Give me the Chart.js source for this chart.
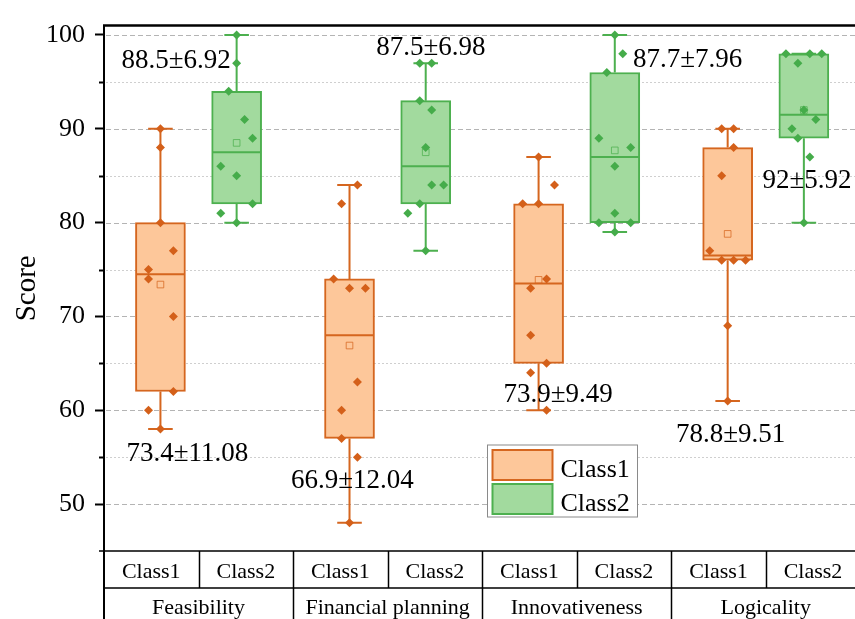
<!DOCTYPE html>
<html>
<head>
<meta charset="utf-8">
<script src="https://cdn.jsdelivr.net/npm/chart.js@4.4.1/dist/chart.umd.min.js"></script>
<style>
  html, body { margin: 0; padding: 0; background: #fff; overflow: hidden; width: 855px; height: 619px; }
  #wrap { position: absolute; left: 0; top: 0; width: 866px; height: 619px; }
</style>
</head>
<body>
<div id="wrap"><canvas id="chart" width="866" height="619"></canvas></div>
<script>
// ---- data ----
const groups = ['Feasibility', 'Financial planning', 'Innovativeness', 'Logicality'];
const classNames = ['Class1', 'Class2'];

// individual scores, one row per criterion
const class1Scores = [
  [90, 88, 80, 77, 75, 74, 70, 62, 60, 58],
  [84, 82, 74, 73, 73, 63, 60, 57, 55, 48],
  [87, 84, 82, 82, 74, 73, 68, 65, 64, 60],
  [90, 90, 88, 85, 77, 76, 76, 76, 69, 61]
];
const class2Scores = [
  [100, 97, 94, 91, 89, 86, 85, 82, 81, 80],
  [97, 97, 93, 92, 88, 84, 84, 82, 81, 77],
  [100, 98, 96, 89, 88, 86, 81, 80, 80, 79],
  [98, 98, 98, 97, 92, 91, 90, 89, 87, 80]
];

// box statistics
const class1Q1     = [62, 57, 65, 76];
const class1Median = [74.5, 68, 73.5, 76.5];
const class1Q3     = [80, 74, 82, 88];
const class1Min    = [58, 48, 60, 61];
const class1Max    = [90, 84, 87, 90];
const class2Q1     = [82, 82, 80, 89];
const class2Median = [87.5, 86, 87, 91.5];
const class2Q3     = [94, 93, 96, 98];
const class2Min    = [80, 77, 79, 80];
const class2Max    = [100, 97, 100, 98];

// mean ± SD
const class1Mean = [73.4, 66.9, 73.9, 78.8];
const class1SD   = [11.08, 12.04, 9.49, 9.51];
const class2Mean = [88.5, 87.5, 87.7, 92];
const class2SD   = [6.92, 6.98, 7.96, 5.92];

const yTickValues = [50, 60, 70, 80, 90, 100];

// ---- layout ----
const CLASS_SHIFT = 0.403;   // box centre distance from group centre (x units)
const BOX_PX = 50;           // box width in px
const CAP_HALF = 0.13;       // whisker cap half width (x units)
const JITTER_UNIT = 1 / 95.1;
// horizontal spread of the individual points (px-like steps)
const class1Jitter = [
  [0, 0, 0, 13, -12, -12, 13, 13, -12, 0],
  [8, -8, -16, 0, 16, 8, -8, -8, 8, 0],
  [0, 16, -16, 0, 8, -8, -8, 8, -8, 8],
  [-6, 6, 6, -6, -18, -6, 6, 18, 0, 0]
];
const class2Jitter = [
  [0, 0, -8, 8, 16, -16, 0, 16, -16, 0],
  [-6, 6, -6, 6, 0, 6, 18, -6, -18, 0],
  [0, 8, -8, -16, 16, 0, 0, -16, 16, 0],
  [-18, 6, 18, -6, 0, 12, -12, -6, 6, 0]
];
// where each "mean±SD" text sits: [x units, baseline value]
const class1LabelAt = [[0.881, 54.55], [2.627, 51.68], [4.803, 60.87], [6.628, 56.66]];
const class2LabelAt = [[0.762, 96.45], [3.457, 97.86], [6.173, 96.56], [7.437, 83.66]];

const ORANGE = '#D5661F', ORANGE_FILL = '#FDC79A', ORANGE_PT = '#D4601A';
const GREEN = '#4DB04F', GREEN_FILL = '#A2DA9E', GREEN_PT = '#45AC4A';
const SERIF = '"Liberation Serif", "Times New Roman", serif';

const boxX = (g, c) => 2 * g + 1 + (c === 0 ? -CLASS_SHIFT : CLASS_SHIFT);

function pointsFor(scores, jitter, c) {
  const out = [];
  scores.forEach((row, g) => row.forEach((v, k) => out.push({ x: boxX(g, c) + jitter[g][k] * JITTER_UNIT, y: v })));
  return out;
}
const meansFor = (means, c) => means.map((m, g) => ({ x: boxX(g, c), y: m }));
const boxesFor = (q1, q3, c) => q1.map((v, g) => ({ x: boxX(g, c), y: [v, q3[g]] }));

const stats = [
  { q1: class1Q1, med: class1Median, q3: class1Q3, min: class1Min, max: class1Max, color: ORANGE,
    mean: class1Mean, sd: class1SD, at: class1LabelAt },
  { q1: class2Q1, med: class2Median, q3: class2Q3, min: class2Min, max: class2Max, color: GREEN,
    mean: class2Mean, sd: class2SD, at: class2LabelAt }
];

// dashed grid + minor ticks behind the boxes
const gridPlugin = {
  id: 'grid',
  beforeDatasetsDraw(chart) {
    const { ctx, chartArea: a, scales: { y } } = chart;
    ctx.save();
    for (let v = 50; v <= 100; v += 5) {
      const py = Math.round(y.getPixelForValue(v)) + 0.5;
      const major = v % 10 === 0;
      ctx.strokeStyle = major ? '#b4b4b4' : '#cfcfcf';
      ctx.lineWidth = 1;
      ctx.setLineDash(major ? [5, 3] : [2, 2]);
      ctx.beginPath(); ctx.moveTo(a.left + 2, py); ctx.lineTo(a.right, py); ctx.stroke();
      if (!major) {
        ctx.setLineDash([]);
        ctx.strokeStyle = '#000'; ctx.lineWidth = 2;
        ctx.beginPath(); ctx.moveTo(a.left - 5, py); ctx.lineTo(a.left, py); ctx.stroke();
      }
    }
    ctx.restore();
  }
};

// whiskers, caps and median lines for each class's boxes
const whiskerPlugin = {
  id: 'whiskers',
  afterDatasetDraw(chart, args) {
    const ds = chart.data.datasets[args.index];
    if (ds.boxClass === undefined) return;
    const s = stats[ds.boxClass];
    const { ctx, scales: { x, y } } = chart;
    ctx.save();
    ctx.strokeStyle = s.color; ctx.lineWidth = 2;
    s.q1.forEach((q1, g) => {
      const cx = boxX(g, ds.boxClass);
      const px = x.getPixelForValue(cx);
      const half = BOX_PX / 2 - 1;
      const capL = x.getPixelForValue(cx - CAP_HALF), capR = x.getPixelForValue(cx + CAP_HALF);
      ctx.beginPath();
      ctx.moveTo(px, y.getPixelForValue(s.q3[g])); ctx.lineTo(px, y.getPixelForValue(s.max[g]));
      ctx.moveTo(px, y.getPixelForValue(q1)); ctx.lineTo(px, y.getPixelForValue(s.min[g]));
      ctx.moveTo(capL, y.getPixelForValue(s.max[g])); ctx.lineTo(capR, y.getPixelForValue(s.max[g]));
      ctx.moveTo(capL, y.getPixelForValue(s.min[g])); ctx.lineTo(capR, y.getPixelForValue(s.min[g]));
      ctx.moveTo(px - half, y.getPixelForValue(s.med[g])); ctx.lineTo(px + half, y.getPixelForValue(s.med[g]));
      ctx.stroke();
    });
    ctx.restore();
  }
};

// frame, category table, mean±SD texts and legend
const decorPlugin = {
  id: 'decor',
  afterDraw(chart) {
    const { ctx, chartArea: a, scales: { x, y } } = chart;
    const W = chart.width, H = chart.height;
    ctx.save();
    ctx.strokeStyle = '#000';
    // top frame
    ctx.lineWidth = 2.5;
    ctx.beginPath(); ctx.moveTo(a.left - 1, a.top); ctx.lineTo(W, a.top); ctx.stroke();
    // axis continued through the table
    ctx.lineWidth = 2;
    ctx.beginPath(); ctx.moveTo(a.left, a.bottom); ctx.lineTo(a.left, H); ctx.stroke();
    // table rules
    const rowH = 37;
    const r1 = a.bottom, r2 = a.bottom + rowH;
    ctx.lineWidth = 1.5;
    ctx.beginPath();
    ctx.moveTo(a.left - 5, r1); ctx.lineTo(W, r1);
    ctx.moveTo(a.left, r2); ctx.lineTo(W, r2);
    for (let k = 1; k < 8; k++) {
      const px = Math.round(x.getPixelForValue(k)) + 0.5;
      ctx.moveTo(px, r1); ctx.lineTo(px, k % 2 === 0 ? H : r2);
    }
    ctx.stroke();
    ctx.fillStyle = '#000';
    ctx.textAlign = 'center';
    ctx.textBaseline = 'alphabetic';
    ctx.font = '22px ' + SERIF;
    for (let k = 0; k < 8; k++) {
      ctx.fillText(classNames[k % 2], x.getPixelForValue(k + 0.5), r1 + 27);
    }
    groups.forEach((name, g) => ctx.fillText(name, x.getPixelForValue(2 * g + 1), r2 + 26));

    // mean ± SD texts
    ctx.font = '27px ' + SERIF;
    stats.forEach(s => s.mean.forEach((m, g) => {
      const [lx, ly] = s.at[g];
      ctx.fillText(m + '\u00B1' + s.sd[g], x.getPixelForValue(lx), y.getPixelForValue(ly));
    }));

    // legend
    const lx = 487.5, ly = 445;
    ctx.fillStyle = '#fff';
    ctx.fillRect(lx, ly, 150, 72);
    ctx.strokeStyle = '#8a8a8a'; ctx.lineWidth = 1;
    ctx.strokeRect(lx, ly, 150, 72);
    const sw = [[ORANGE_FILL, ORANGE, 'Class1'], [GREEN_FILL, GREEN, 'Class2']];
    sw.forEach(([f, st, t], i) => {
      const top = ly + 5 + i * 34;
      ctx.fillStyle = f; ctx.fillRect(lx + 5, top, 60, 30);
      ctx.strokeStyle = st; ctx.lineWidth = 2; ctx.strokeRect(lx + 5, top, 60, 30);
      ctx.fillStyle = '#000'; ctx.textAlign = 'left'; ctx.font = '26px ' + SERIF;
      ctx.fillText(t, lx + 73, top + 27);
    });
    ctx.restore();
  }
};

new Chart(document.getElementById('chart'), {
  type: 'bar',
  data: {
    datasets: [
      { type: 'scatter', label: 'Class1 points', data: pointsFor(class1Scores, class1Jitter, 0),
        pointStyle: 'rectRot', pointRadius: 4.5, backgroundColor: ORANGE_PT, borderColor: ORANGE_PT, borderWidth: 0 },
      { type: 'scatter', label: 'Class2 points', data: pointsFor(class2Scores, class2Jitter, 1),
        pointStyle: 'rectRot', pointRadius: 4.5, backgroundColor: GREEN_PT, borderColor: GREEN_PT, borderWidth: 0 },
      { type: 'scatter', label: 'Class1 mean', data: meansFor(class1Mean, 0),
        pointStyle: 'rect', pointRadius: 4.7, backgroundColor: 'rgba(0,0,0,0)', borderColor: 'rgba(213,102,31,0.75)', borderWidth: 1 },
      { type: 'scatter', label: 'Class2 mean', data: meansFor(class2Mean, 1),
        pointStyle: 'rect', pointRadius: 4.7, backgroundColor: 'rgba(0,0,0,0)', borderColor: 'rgba(77,176,79,0.75)', borderWidth: 1 },
      { type: 'bar', label: 'Class1', boxClass: 0, data: boxesFor(class1Q1, class1Q3, 0),
        backgroundColor: ORANGE_FILL, borderColor: ORANGE, borderWidth: 2, borderSkipped: false,
        barThickness: BOX_PX, grouped: false },
      { type: 'bar', label: 'Class2', boxClass: 1, data: boxesFor(class2Q1, class2Q3, 1),
        backgroundColor: GREEN_FILL, borderColor: GREEN, borderWidth: 2, borderSkipped: false,
        barThickness: BOX_PX, grouped: false }
    ]
  },
  options: {
    responsive: false,
    animation: false,
    layout: { padding: { top: 19, right: 1, bottom: 68, left: 0 } },
    plugins: { legend: { display: false }, tooltip: { enabled: false } },
    scales: {
      x: { type: 'linear', min: 0, max: 8, display: false, offset: false },
      y: {
        type: 'linear', min: 45, max: 101,
        afterFit(scale) { scale.width = 104; },
        afterBuildTicks(scale) { scale.ticks = yTickValues.map(v => ({ value: v })); },
        ticks: { color: '#000', font: { family: SERIF, size: 26 }, padding: 10 },
        grid: { drawOnChartArea: false, drawTicks: true, tickLength: 9, tickColor: '#000', tickWidth: 2 },
        border: { display: true, color: '#000', width: 2 },
        title: { display: true, text: 'Score', color: '#000', font: { family: SERIF, size: 29 }, padding: { top: 10, bottom: 0 } }
      }
    }
  },
  plugins: [gridPlugin, whiskerPlugin, decorPlugin]
});
</script>
</body>
</html>
